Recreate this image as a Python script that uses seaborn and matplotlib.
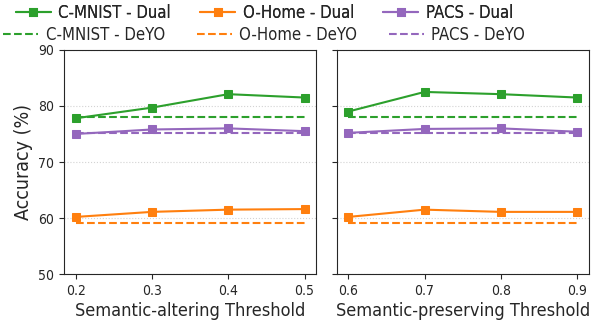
import pandas as pd
import matplotlib
matplotlib.use("Agg")
import matplotlib.pyplot as plt
import seaborn as sns

sns.set_style("ticks")
plt.rcParams['font.family'] = ['DejaVu Sans']
plt.rcParams['font.stretch'] = 'condensed'

# Data
altering_x = [0.2, 0.3, 0.4, 0.5]
preserving_x = [0.6, 0.7, 0.8, 0.9]

datasets = ['C-MNIST', 'O-Home', 'PACS']
colors = ['#2ca02c', '#ff7f0e', '#9467bd']

altering_dual = {
    'C-MNIST': [77.8, 79.7, 82.1, 81.5],
    'O-Home': [60.2, 61.1, 61.5, 61.6],
    'PACS': [75.0, 75.8, 76.0, 75.5],
}
preserving_dual = {
    'C-MNIST': [79.0, 82.5, 82.1, 81.5],
    'O-Home': [60.2, 61.5, 61.1, 61.1],
    'PACS': [75.2, 75.9, 76.0, 75.4],
}
deyo = {'C-MNIST': 78.0, 'O-Home': 59.1, 'PACS': 75.2}

fig = plt.figure(figsize=(5.94, 3.24), dpi=100)
ax1 = fig.add_axes([0.108, 0.154, 0.424, 0.692])
ax2 = fig.add_axes([0.567, 0.154, 0.424, 0.692], sharey=ax1)

for ax, xs, dual, xlabel in [(ax1, altering_x, altering_dual, 'Semantic-altering Threshold'),
                             (ax2, preserving_x, preserving_dual, 'Semantic-preserving Threshold')]:
    for name, c in zip(datasets, colors):
        sns.lineplot(x=xs, y=dual[name], ax=ax, color=c, marker='s', markersize=6,
                     markeredgecolor=c, linewidth=1.5, label=f'{name} - Dual')
        sns.lineplot(x=xs, y=[deyo[name]] * len(xs), ax=ax, color=c, linestyle='--',
                     linewidth=1.5, label=f'{name} - DeYO')
    ax.set_xlabel(xlabel, fontsize=13, labelpad=3)
    ax.set_xticks(xs)
    ax.tick_params(labelsize=10)
    ax.yaxis.grid(True, linestyle=':', color='lightgray', linewidth=0.8)
    ax.set_ylim(50, 90)
    ax.set_yticks([50, 60, 70, 80, 90])

ax1.set_ylabel('Accuracy (%)', fontsize=14)
ax2.tick_params(labelleft=False)
ax2.set_ylabel('')

h, l = ax1.get_legend_handles_labels()
ax1.get_legend().remove()
ax2.get_legend().remove()
leg1 = fig.legend(h[0::2], l[0::2], loc='center', bbox_to_anchor=(0.445, 0.96), ncol=3,
                  frameon=False, fontsize=12, handlelength=2.1, handletextpad=0.45,
                  columnspacing=1.75, borderpad=0, borderaxespad=0)
fig.add_artist(leg1)
fig.legend(h[1::2], l[1::2], loc='center', bbox_to_anchor=(0.445, 0.892), ncol=3,
           frameon=False, fontsize=12, handlelength=2.1, handletextpad=0.45,
           columnspacing=1.9, borderpad=0, borderaxespad=0)

fig.savefig('out.png', dpi=100)
